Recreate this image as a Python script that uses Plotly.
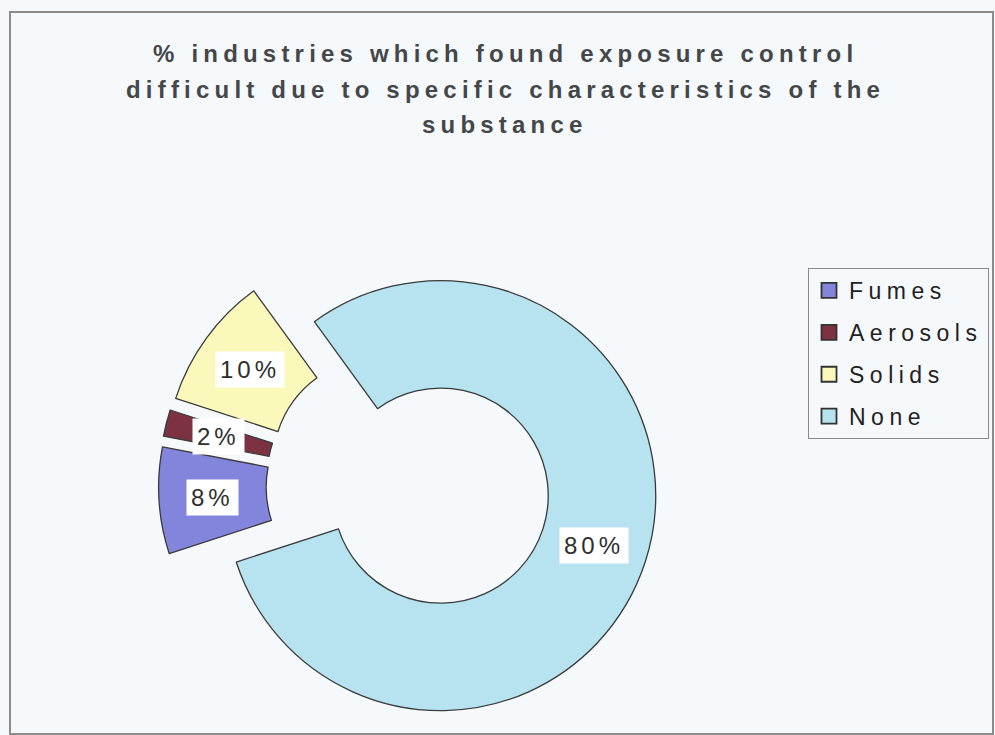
import math
import plotly.graph_objects as go

# Share of industries reporting difficult exposure control, by substance characteristic
categories = ["Fumes", "Aerosols", "Solids", "None"]
percentages = [8, 2, 10, 80]
slice_colors = ["#8385DC", "#7C3242", "#FBF8BC", "#B6E3EF"]

title_lines = [
    "% industries which found exposure control",
    "difficult due to specific characteristics of the",
    "substance",
]

W, H = 995, 735
BG = "#F6F9FB"

# Donut geometry (pixels): centre, outer radius, explode fraction, hole ratio
CX, CY = 408, 485
R = 215
PULL = 0.16
HOLE = 0.5
START_ANGLE = 252  # clockwise from 12 o'clock, where the first slice begins

box = 2 * R * (1 + PULL)
dom_x = [(CX - box / 2) / W, (CX + box / 2) / W]
dom_y = [max((H - CY - box / 2) / H, 0.0), (H - CY + box / 2) / H]


def spaced(text, px):
    return f'<span style="letter-spacing:{px}px">{text}</span>'


fig = go.Figure()

fig.add_trace(go.Pie(
    labels=categories,
    values=percentages,
    sort=False,
    direction="clockwise",
    rotation=START_ANGLE,
    hole=HOLE,
    pull=[PULL] * len(percentages),
    marker=dict(colors=slice_colors, line=dict(color="#3A3A3A", width=1.3)),
    textinfo="none",
    hoverinfo="label+percent",
    showlegend=False,
    domain=dict(x=dom_x, y=dom_y),
))

# Legend entries (square swatches) sharing the slice colours
for name, color in zip(categories, slice_colors):
    fig.add_trace(go.Scatter(
        x=[None], y=[None], mode="markers",
        name=spaced(name, 5.5),
        legendgroup=name,
        marker=dict(symbol="square", size=15, color=color,
                    line=dict(color="#333333", width=1.8)),
        hoverinfo="skip",
    ))

# Percentage labels on white boxes, placed at the middle of each exploded ring segment
annotations = []
total = sum(percentages)
cum = 0.0
mid_r = (R + HOLE * R) / 2
for val in percentages:
    mid = math.radians(START_ANGLE + 360 * (cum + val / 2) / total)
    cum += val
    dist = PULL * R + mid_r
    px = CX + dist * math.sin(mid)
    py = CY - dist * math.cos(mid)
    annotations.append(dict(
        x=px / W, y=1 - py / H, xref="paper", yref="paper",
        text=spaced(f"{val}%", 4), showarrow=False,
        font=dict(family="Liberation Sans, Arial", size=24, color="#2E2E2E"),
        bgcolor="#FFFFFF", borderpad=4,
        xanchor="center", yanchor="middle",
    ))

# Three-line chart title
title_y = [53, 89, 125]
for line, ty in zip(title_lines, title_y):
    annotations.append(dict(
        x=505 / W, y=1 - ty / H, xref="paper", yref="paper",
        text=spaced(f"<b>{line}</b>", 5.2), showarrow=False,
        font=dict(family="Liberation Sans, Arial", size=24, color="#44474A",
                  weight="bold"),
        xanchor="center", yanchor="middle",
    ))

fig.update_layout(
    width=W, height=H,
    margin=dict(l=0, r=0, t=0, b=0),
    paper_bgcolor=BG, plot_bgcolor=BG,
    xaxis=dict(visible=False), yaxis=dict(visible=False),
    annotations=annotations,
    legend=dict(
        x=808 / W, y=1 - 268 / H, xanchor="left", yanchor="top",
        bgcolor=BG, bordercolor="#8A8A8A", borderwidth=1,
        font=dict(family="Liberation Sans, Arial", size=23, color="#222222"),
        tracegroupgap=9,
    ),
    shapes=[dict(
        type="rect", xref="paper", yref="paper",
        x0=10 / W, x1=993 / W, y0=1 - 734 / H, y1=1 - 12 / H,
        line=dict(color="#8C8C8C", width=2), layer="below",
    )],
)

fig.write_html("out.html")
